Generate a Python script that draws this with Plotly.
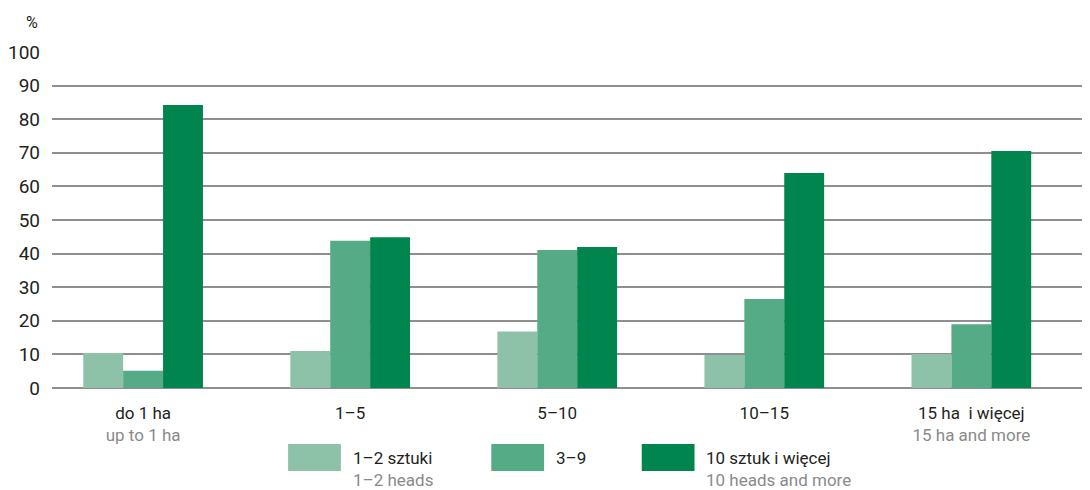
import plotly.graph_objects as go

categories = ["do 1 ha", "1–5", "5–10", "10–15", "15 ha  i więcej"]
categories_en = ["up to 1 ha", "", "", "", "15 ha and more"]

series_names = ["1–2 sztuki", "3–9", "10 sztuk i więcej"]
series_names_en = ["1–2 heads", "", "10 heads and more"]

heads_1_2 = [10.4, 11.0, 16.8, 9.8, 10.1]
heads_3_9 = [5.1, 43.8, 41.1, 26.5, 19.0]
heads_10_plus = [84.2, 44.9, 42.0, 64.0, 70.5]

y_ticks = [0, 10, 20, 30, 40, 50, 60, 70, 80, 90, 100]

colors = ["#8ec2a8", "#56ab87", "#00854f"]
FONT = "Roboto, sans-serif"
OFF = 8  # page body margin
W, H = 1090 - OFF, 490 - OFF
L, R, T = 48 - OFF, 0, 52 - OFF
B = H - (388 - OFF)
PW, PH = W - L - R, H - T - B

def px_x(x):
    return (x - OFF - L) / PW

def px_y(y):
    return (388 - y) / PH

fig = go.Figure()
for name, vals, col in zip(series_names, [heads_1_2, heads_3_9, heads_10_plus], colors):
    fig.add_trace(go.Bar(x=list(range(len(categories))), y=vals, name=name,
                         marker=dict(color=col, line=dict(width=0)), showlegend=False))

ticktext = [c + ("<br><span style='color:#8a8a8a'>" + e + "</span>" if e else "")
            for c, e in zip(categories, categories_en)]

fig.update_layout(
    width=W, height=H,
    margin=dict(l=L, r=R, t=T, b=B),
    paper_bgcolor="white", plot_bgcolor="white",
    barmode="group", bargap=0.422, bargroupgap=0,
    font=dict(family=FONT, size=17, color="#231f20"),
    xaxis=dict(range=[-0.44, 4.573], tickmode="array",
               tickvals=list(range(len(categories))), ticktext=ticktext,
               showgrid=False, zeroline=False, showline=False, ticks="",
               ticklabelstandoff=13,
               tickfont=dict(size=17, color="#231f20", family=FONT)),
    yaxis=dict(range=[0, 100], tickmode="array", tickvals=y_ticks,
               showgrid=True, gridcolor="#8f8f8f", gridwidth=1.5,
               zeroline=True, zerolinecolor="#8f8f8f", zerolinewidth=1.5,
               showline=False, ticks="", ticklabelstandoff=11,
               tickfont=dict(size=19, color="#231f20", family=FONT)),
)

fig.add_annotation(x=px_x(36), y=px_y(22), xref="paper", yref="paper",
                   text="%", showarrow=False, xanchor="right", yanchor="middle",
                   font=dict(size=16, color="#231f20"))

swatch_x = [285, 489, 640]
for i, (name, name_en, col) in enumerate(zip(series_names, series_names_en, colors)):
    x0 = swatch_x[i]
    fig.add_shape(type="rect", xref="paper", yref="paper",
                  x0=px_x(x0), x1=px_x(x0 + 53), y0=px_y(444), y1=px_y(471),
                  fillcolor=col, line=dict(width=0))
    fig.add_annotation(x=px_x(x0 + 63), y=px_y(458), xref="paper", yref="paper",
                       text=name, showarrow=False, xanchor="left", yanchor="middle",
                       font=dict(size=17, color="#231f20"))
    if name_en:
        fig.add_annotation(x=px_x(x0 + 63), y=px_y(480), xref="paper", yref="paper",
                           text=name_en, showarrow=False, xanchor="left", yanchor="middle",
                           font=dict(size=17, color="#8a8a8a"))

fig.write_html("out.html")
